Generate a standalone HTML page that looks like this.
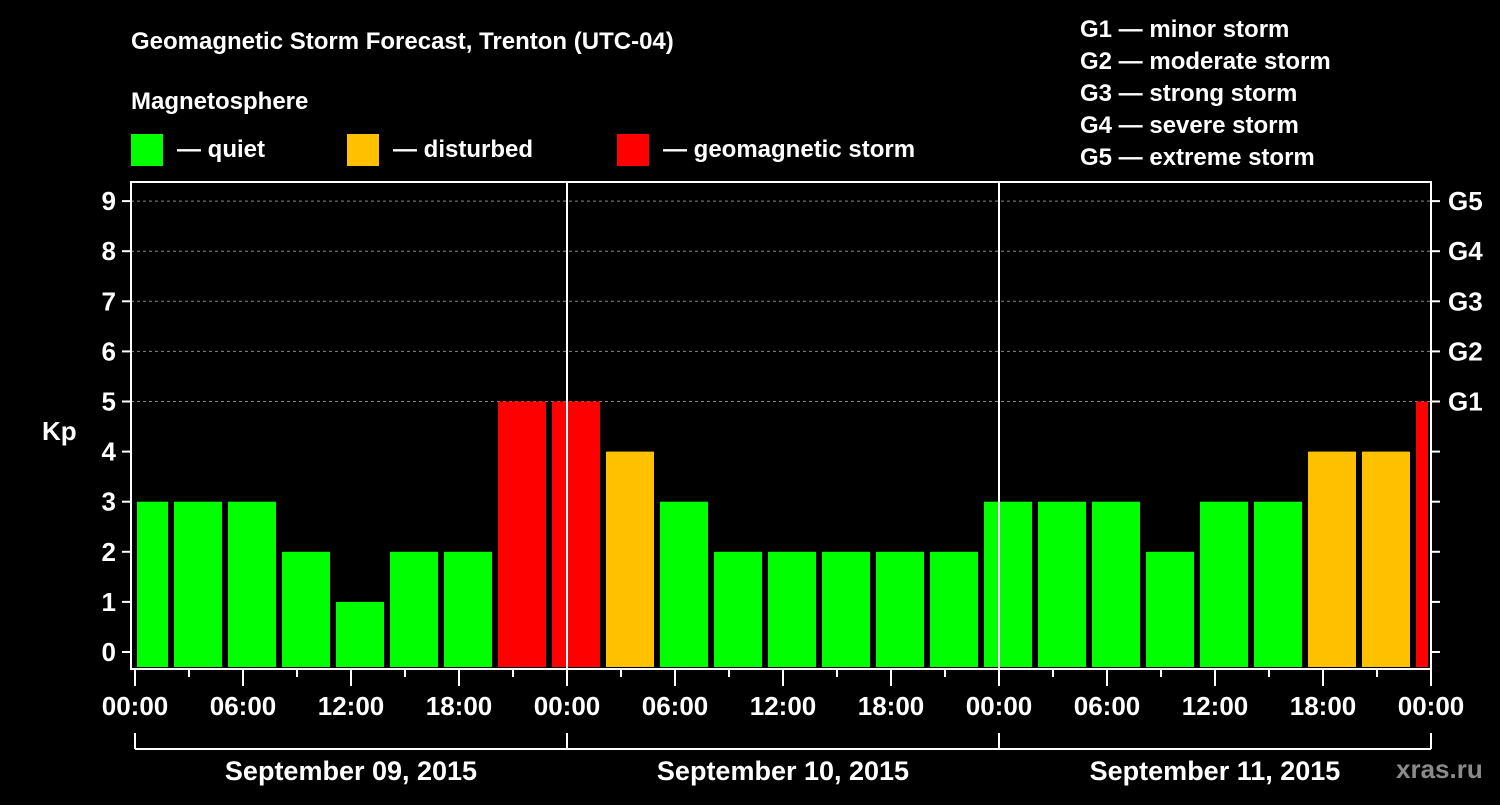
<!DOCTYPE html>
<html><head><meta charset="utf-8"><style>
body{margin:0;background:#000;width:1500px;height:800px;overflow:hidden}
svg text{font-family:"Liberation Sans",Arial,sans-serif;font-weight:bold;fill:#fff}
</style></head><body>
<svg id="chart" width="1500" height="800">
<text x="131" y="49" font-size="24">Geomagnetic Storm Forecast, Trenton (UTC-04)</text>
<text x="131" y="109" font-size="24">Magnetosphere</text>
<g><rect x="131" y="134" width="32" height="32" fill="#00ff00"/><text x="177" y="157" font-size="24">— quiet</text></g>
<g><rect x="347" y="134" width="32" height="32" fill="#ffc000"/><text x="393" y="157" font-size="24">— disturbed</text></g>
<g><rect x="617" y="134" width="32" height="32" fill="#ff0000"/><text x="663" y="157" font-size="24">— geomagnetic storm</text></g>
<g font-size="24">
<text x="1080" y="37">G1 — minor storm</text>
<text x="1080" y="69">G2 — moderate storm</text>
<text x="1080" y="101">G3 — strong storm</text>
<text x="1080" y="133">G4 — severe storm</text>
<text x="1080" y="165">G5 — extreme storm</text>
</g>
<text x="42" y="440" font-size="26">Kp</text>
<text x="1396" y="778" font-size="26" fill="#888" style="fill:#8a8a8a">xras.ru</text>
<g id="plot"></g>
</svg>
<script>
const kpValues=[3,3,3,2,1,2,2,5,5,4,3,2,2,2,2,2,3,3,3,2,3,3,4,4,5];
const dayLabels=["September 09, 2015","September 10, 2015","September 11, 2015"];
const hourLabels=["00:00","06:00","12:00","18:00"];
const gLabels=["G1","G2","G3","G4","G5"];
const NS="http://www.w3.org/2000/svg";
const g=document.getElementById('plot');
const X0=135,PX_H=18,L=131,R=1431,T=182,B=669;
const xh=h=>X0+h*PX_H;
const yk=k=>652-k*50.1;
function mk(t,a,txt){const e=document.createElementNS(NS,t);for(const k in a)e.setAttribute(k,a[k]);if(txt!==undefined)e.textContent=txt;g.appendChild(e);return e;}
// gridlines
for(let k=5;k<=9;k++){
 const e=mk('line',{x1:L,x2:R,y1:yk(k),y2:yk(k),stroke:'#888','stroke-dasharray':'3,3','stroke-width':1});
 
 
}
// bars
kpValues.forEach((v,i)=>{
 const c=xh(i*3+0.5);let x1=Math.max(c-24,137),x2=Math.min(c+24,1428);
 const col=v>=5?'#ff0000':v>=4?'#ffc000':'#00ff00';
 const e=mk('rect',{x:x1,y:yk(v),width:x2-x1,height:667-yk(v),fill:col});
 
 
});
// day separators
[1,2].forEach(d=>{const e=mk('line',{x1:xh(d*24),x2:xh(d*24),y1:T,y2:B,stroke:'#fff','stroke-width':2});
 
 });
// frame
const fr=mk('rect',{x:L,y:T,width:R-L,height:B-T,fill:'none',stroke:'#fff','stroke-width':2});


// y ticks & labels
for(let k=0;k<=9;k++){
 mk('line',{x1:122,x2:L,y1:yk(k),y2:yk(k),stroke:'#fff','stroke-width':2});
 mk('line',{x1:R,x2:1440,y1:yk(k),y2:yk(k),stroke:'#fff','stroke-width':2});
 const t=mk('text',{x:116,y:yk(k)+9,'font-size':26,'text-anchor':'end'},String(k));
 
 
}
gLabels.forEach((s,i)=>{const t=mk('text',{x:1448,y:yk(i+5)+9,'font-size':26},s);
 
 });
// x ticks
for(let h=0;h<=72;h+=3){const major=h%6===0;
 mk('line',{x1:xh(h),x2:xh(h),y1:B,y2:major?686:677,stroke:'#fff','stroke-width':2});}
for(let d=0;d<=3;d++){for(let j=0;j<4;j++){if(d===3&&j>0)break;
 const t=mk('text',{x:xh(d*24+j*6),y:715,'font-size':26,'text-anchor':'middle'},hourLabels[j]);
 
 }}
// date bracket
mk('line',{x1:xh(0),x2:xh(72),y1:749,y2:749,stroke:'#fff','stroke-width':2});
for(let d=0;d<=3;d++)mk('line',{x1:xh(d*24),x2:xh(d*24),y1:733,y2:749,stroke:'#fff','stroke-width':2});
dayLabels.forEach((s,i)=>{const t=mk('text',{x:xh(i*24+12),y:780,'font-size':27,'text-anchor':'middle'},s);
 
 });
</script>
</body></html>
